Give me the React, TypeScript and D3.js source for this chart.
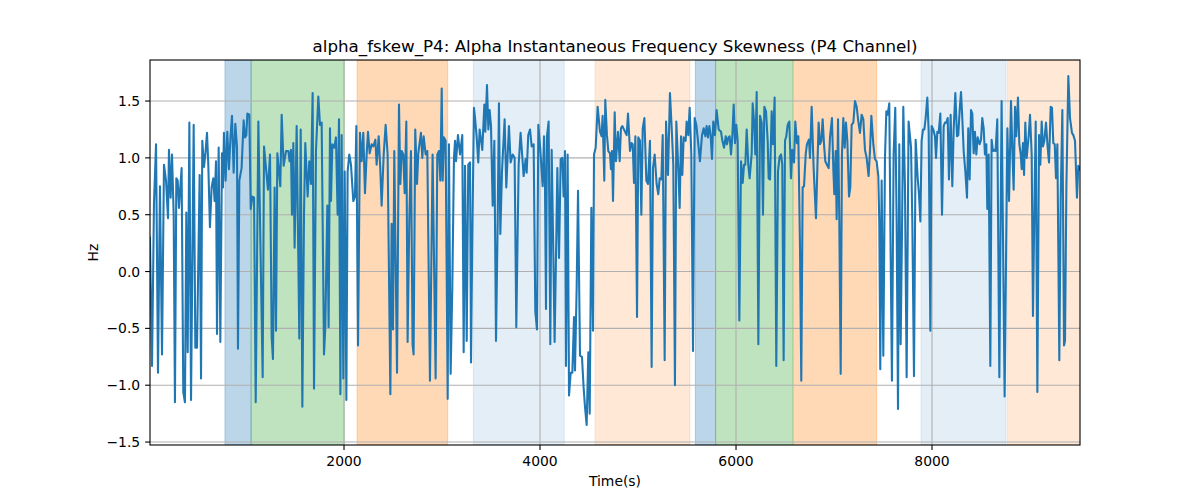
import React from 'react';
import * as d3 from 'd3';

const sampleTimes: number[] = [
  20,41,61,82,102,122,143,163,184,204,214,231,245,262,275,289,303,316,343,360,377,391,405,422,439,466,483,500,527,541,554,571,585,602,615,632,649,666,680,694,704,721,738,755,765,775,792,809,826,843,857,874,891,908,918,932,955,976,
  990,1003,1014,1034,1048,1065,1082,1099,1126,1170,1184,1204,1224,1245,1262,1275,1292,1306,1320,1340,1350,1364,1384,1408,1432,1445,1459,1469,1483,1496,1517,1544,1558,1575,1592,1605,1629,1646,1663,1680,1694,1714,1738,1755,1772,1796,1809,1830,1843,1857,1867,1881,1901,1918,1935,1949,
  1963,1976,1993,2007,2024,2037,2054,2071,2095,2112,2126,2143,2163,2180,2197,2214,2231,2245,2262,2282,2299,2320,2333,2354,2370,2384,2405,2425,2445,2473,2486,2500,2513,2541,2561,2575,2588,2605,2619,2636,2649,2666,2683,2700,2710,2727,2745,2758,2785,2799,2813,2833,2850,2877,2904,
  2935,2952,2969,2983,2997,3007,3020,3037,3058,3071,3088,3105,3122,3133,3143,3163,3184,3207,3221,3235,3252,3268,3286,3296,3309,3326,3337,3354,3370,3384,3398,3411,3432,3442,3459,3473,3486,3500,3517,3534,3551,3568,3581,3595,3612,3639,3656,3683,3700,3721,3741,3758,3782,3802,3833,3853,3864,3880,
  3898,3915,3935,3952,3969,3983,4003,4027,4041,4051,4061,4071,4088,4105,4119,4136,4149,4166,4177,4194,4211,4228,4241,4255,4265,4282,4296,4313,4330,4347,4357,4374,4388,4408,4428,4445,4459,4476,4493,4507,4524,4541,4551,4568,4588,4612,4629,4639,4656,4666,4683,4697,4714,4724,4734,4745,4762,4775,4796,4813,4826,4840,
  4884,4898,4918,4935,4946,4959,4973,4990,5003,5020,5034,5048,5065,5085,5102,5122,5139,5153,5170,5190,5207,5221,5238,5252,5272,5286,5306,5326,5347,5360,5377,5391,5411,5425,5439,5452,5466,5486,5496,5513,5527,5544,5561,5578,5595,5612,5632,5653,5670,5687,5700,5714,5728,5741,5755,5768,5785,5802,5823,
  5847,5861,5878,5895,5908,5922,5935,5949,5963,5976,5990,6003,6017,6034,6051,6068,6082,6095,6109,6126,6139,6160,6170,6184,6197,6211,6228,6245,6262,6275,6289,6306,6323,6333,6347,6364,6377,6394,6411,6428,6445,6459,6472,6486,6500,6513,6527,6544,6561,6574,6592,6605,6622,6636,6653,6666,6680,6694,6711,6724,6744,6755,6772,6792,
  6816,6830,6843,6857,6871,6884,6898,6911,6928,6945,6959,6979,6993,7003,7017,7027,7041,7054,7068,7081,7095,7109,7122,7136,7153,7166,7180,7197,7214,7231,7248,7265,7282,7299,7316,7333,7353,7367,7381,7401,7418,7435,7452,7462,7472,7486,7503,7520,7534,7547,7564,7578,7591,7608,7625,7639,7653,7666,7680,7693,7707,7724,7741,7761,
  7786,7799,7816,7833,7854,7867,7881,7894,7908,7922,7935,7952,7966,7983,7996,8013,8030,8041,8054,8068,8085,8102,8119,8132,8146,8160,8173,8190,8207,8221,8238,8255,8268,8282,8296,8309,8323,8340,8357,8370,8384,8398,8411,8425,8438,8452,8466,8486,8500,8513,8527,8540,8554,8564,8578,8595,8608,8622,8636,8649,8666,8687,8710,
  8741,8769,8786,8806,8820,8833,8847,8860,8877,8891,8905,8915,8928,8939,8952,8966,8986,9000,9017,9030,9044,9058,9075,9092,9105,9119,9132,9146,9163,9180,9194,9211,9224,9238,9252,9265,9279,9299,9313,9330,9347,9357,9371,9391,9408,9428,9442,9459,9479,9493,9510,
];

const skewHz: number[] = [
  0.3,-0.83,0.6,1.12,-0.89,0.75,-0.73,0.94,0.8,0.47,1.07,0.65,1.03,0.5,-1.15,0.82,0.8,0.56,0.91,-1.06,-1.15,0.52,-0.71,1.31,-1.13,1.29,-0.67,-0.67,0.85,-0.94,1.15,0.92,1.03,1.22,0.95,0.39,0.74,0.82,0.62,0.97,-0.55,1.09,-0.62,1.04,0.74,1.22,0.8,1.23,0.9,1.2,1.37,0.87,1.3,1.1,-0.68,0.8,0.91,1.33,
  1.18,1.2,1.39,1.38,0.55,0.66,0.65,-1.15,1.32,-0.93,1.1,0.91,0.72,1.03,-0.58,-0.77,0.74,-0.52,1.04,0.85,0.75,1.38,0.93,1.06,1.06,0.97,1.07,0.5,1.13,0.21,1.28,-0.59,1.25,-1.19,0.52,1.13,0.66,0.97,0.77,1.57,-1.03,1.06,1.54,1.29,1.31,-0.73,-0.49,0.58,-0.49,1.26,0.62,1.12,1.09,1.18,0.5,1.34,
  -1.08,1.2,-0.94,0.88,-1.13,0.88,1.03,0.94,0.62,0.66,1.28,-0.65,1.22,0.97,1.22,0.69,1.03,1.23,1.04,1.12,1.1,1.16,0.94,1.19,0.91,0.58,1.03,1.29,1.03,-1.08,0.42,-0.51,1.06,-0.89,1.47,0.77,1.06,1.03,0.69,1.32,-0.62,0.44,1.06,-0.64,-0.73,1.25,0.77,1.04,1.22,1.0,1.19,1.03,1.06,-0.96,1.03,
  -0.94,1.03,1.06,0.8,1.61,0.8,1.18,1.15,-1.12,1.12,-0.9,-0.14,1.0,1.15,0.97,1.2,1.03,1.2,-0.71,0.93,-0.61,0.94,0.96,-0.8,0.3,1.44,1.35,1.18,0.96,1.25,1.16,1.07,1.47,1.23,1.64,1.25,1.42,1.28,0.58,1.15,-0.61,0.44,1.48,0.33,0.88,1.34,0.74,1.28,0.96,1.03,1.0,-0.49,0.94,1.22,0.84,0.99,0.87,1.2,
  1.25,1.1,1.12,-0.35,-0.51,1.29,1.07,0.75,1.19,0.74,-0.33,1.19,1.32,-0.64,1.07,0.15,-0.62,0.28,0.91,0.12,0.99,1.0,0.66,1.06,-0.83,1.03,-1.09,-0.89,-0.89,-0.4,-0.87,-0.14,0.71,-0.74,-0.75,-1.02,-1.19,-1.35,-0.71,-1.25,0.56,-0.52,1.03,1.09,1.45,1.23,1.19,1.37,0.8,1.51,1.2,1.06,1.04,0.9,1.06,0.62,1.4,0.97,1.23,0.97,1.26,1.28,
  1.2,1.39,1.06,1.13,1.12,0.78,1.19,-0.4,1.18,1.15,0.5,1.26,1.35,0.8,0.77,1.15,-0.84,0.91,1.03,0.77,0.68,0.82,0.81,1.2,-0.78,1.32,0.85,1.57,1.2,0.94,-1.0,1.32,0.91,0.56,1.19,0.85,1.18,1.15,1.32,1.2,1.44,1.03,-0.7,1.35,1.29,1.15,0.97,1.2,1.26,1.19,1.28,1.18,1.28,1.2,0.99,1.32,1.2,1.42,1.25,
  1.23,1.15,1.09,1.19,1.12,1.18,1.19,1.03,1.2,1.47,1.13,1.29,1.15,-0.43,0.97,0.78,0.94,0.94,1.25,0.93,0.82,1.04,1.48,1.32,1.03,1.58,-0.64,1.37,1.31,0.5,1.45,1.41,1.15,0.82,0.81,1.41,1.12,1.53,-0.83,0.88,1.01,1.03,0.94,-0.78,1.15,1.19,1.29,1.32,0.82,1.07,0.96,1.32,1.13,1.19,0.21,-0.96,0.74,0.75,1.03,1.12,1.16,1.0,1.45,0.91,
  0.47,0.91,1.31,1.12,1.15,1.34,1.12,0.97,0.94,0.91,1.18,1.35,0.9,0.68,1.06,0.46,1.34,0.44,-0.9,1.03,1.35,1.09,1.31,1.15,0.66,0.74,1.29,1.31,1.5,1.45,1.32,1.22,1.38,1.34,1.07,1.0,0.84,1.06,1.37,1.12,0.99,0.97,0.84,0.44,-0.86,0.8,-0.74,1.0,1.41,1.38,1.48,0.15,-0.96,1.03,1.44,0.44,-1.21,1.12,-0.64,0.3,1.45,0.74,-0.93,1.32,
  1.09,0.44,-0.92,1.16,0.82,0.68,0.44,1.15,1.25,1.25,1.35,1.53,1.23,-0.52,1.28,1.25,1.19,1.0,1.23,1.22,1.39,0.5,1.28,1.31,1.31,1.35,0.81,1.38,0.75,1.25,1.57,1.19,1.2,1.42,1.58,1.35,1.06,0.88,0.65,1.26,0.81,1.42,1.39,1.04,1.23,1.03,1.18,1.12,1.16,1.35,1.26,1.03,1.12,0.55,1.03,-0.83,1.16,1.06,1.07,1.06,1.34,-0.93,1.5,
  -1.1,1.26,0.62,1.5,1.06,0.72,1.45,1.19,1.53,1.12,1.03,0.9,1.13,0.85,1.31,1.0,1.19,1.38,1.03,-0.39,0.53,1.32,-1.06,1.2,0.94,1.32,1.1,1.15,1.31,1.09,0.96,1.45,1.44,1.13,1.12,0.82,1.12,-0.78,0.65,1.42,-0.65,-0.61,0.74,1.72,1.35,1.22,1.2,1.15,0.65,0.93,0.9,
];

const spanStarts = [785, 1052, 2133, 3320, 4561, 5585, 5792, 6585, 7888, 8769];
const spanEnds = [1052, 2003, 3058, 4248, 5530, 5792, 6580, 7435, 8755, 9600];
const spanColors = ['#1f77b4', '#2ca02c', '#ff7f0e', '#1f77b4', '#ff7f0e', '#1f77b4', '#2ca02c', '#ff7f0e', '#1f77b4', '#ff7f0e'];
const spanAlphas = [0.3, 0.3, 0.3, 0.12, 0.17, 0.3, 0.3, 0.3, 0.12, 0.17];

const xTicks = [2000, 4000, 6000, 8000];
const yTicks = [-1.5, -1.0, -0.5, 0.0, 0.5, 1.0, 1.5];

const titleText = 'alpha_fskew_P4: Alpha Instantaneous Frequency Skewness (P4 Channel)';
const xLabel = 'Time(s)';
const yLabel = 'Hz';

const W = 1200;
const H = 500;
const M = { left: 150, right: 1080, top: 60, bottom: 445 };
const FONT = '"DejaVu Sans", sans-serif';

export default function App() {
  const x = d3.scaleLinear().domain([20.4, 9510]).range([M.left, M.right]);
  const y = d3.scaleLinear().domain([-1.526, 1.861]).range([M.bottom, M.top]);
  const pts = d3.zip(sampleTimes, skewHz) as [number, number][];
  const line = d3.line<[number, number]>().x((d) => x(d[0])).y((d) => y(d[1]));
  const fmt = (v: number) => v.toFixed(1).replace('-', '\u2212');

  return (
    <div style={{ position: 'fixed', left: 0, top: 0 }}>
      <svg width={W} height={H} style={{ display: 'block', background: '#fff' }}>
        <defs>
          <clipPath id="plotClip">
            <rect x={M.left} y={M.top} width={M.right - M.left} height={M.bottom - M.top} />
          </clipPath>
        </defs>
        <g clipPath="url(#plotClip)">
          {spanStarts.map((s, i) => (
            <rect
              key={'span' + i}
              x={x(s)}
              y={M.top}
              width={x(spanEnds[i]) - x(s)}
              height={M.bottom - M.top}
              fill={spanColors[i]}
              fillOpacity={spanAlphas[i]}
              stroke={spanColors[i]}
              strokeOpacity={spanAlphas[i]}
              strokeWidth={1}
            />
          ))}
          {xTicks.map((t) => (
            <line key={'gx' + t} x1={x(t)} x2={x(t)} y1={M.top} y2={M.bottom} stroke="#b0b0b0" strokeWidth={1.1} />
          ))}
          {yTicks.map((t) => (
            <line key={'gy' + t} x1={M.left} x2={M.right} y1={y(t)} y2={y(t)} stroke="#b0b0b0" strokeWidth={1.1} />
          ))}
          <path d={line(pts) || ''} fill="none" stroke="#1f77b4" strokeWidth={2.08} strokeLinejoin="round" strokeLinecap="square" />
        </g>
        <rect x={M.left} y={M.top} width={M.right - M.left} height={M.bottom - M.top} fill="none" stroke="#000" strokeWidth={1.1} />
        {xTicks.map((t) => (
          <g key={'tx' + t}>
            <line x1={x(t)} x2={x(t)} y1={M.bottom} y2={M.bottom + 4.9} stroke="#000" strokeWidth={1.1} />
            <text x={x(t)} y={M.bottom + 21} textAnchor="middle" fontFamily={FONT} fontSize={13.9} fill="#000">
              {t}
            </text>
          </g>
        ))}
        {yTicks.map((t) => (
          <g key={'ty' + t}>
            <line x1={M.left - 4.9} x2={M.left} y1={y(t)} y2={y(t)} stroke="#000" strokeWidth={1.1} />
            <text x={M.left - 9.8} y={y(t) + 5} textAnchor="end" fontFamily={FONT} fontSize={13.9} fill="#000">
              {fmt(t)}
            </text>
          </g>
        ))}
        <text x={(M.left + M.right) / 2} y={52} textAnchor="middle" fontFamily={FONT} fontSize={16.7} fill="#000">
          {titleText}
        </text>
        <text x={(M.left + M.right) / 2} y={486} textAnchor="middle" fontFamily={FONT} fontSize={13.9} fill="#000">
          {xLabel}
        </text>
        <text
          transform={`translate(98, ${(M.top + M.bottom) / 2}) rotate(-90)`}
          textAnchor="middle"
          fontFamily={FONT}
          fontSize={13.9}
          fill="#000"
        >
          {yLabel}
        </text>
      </svg>
    </div>
  );
}
